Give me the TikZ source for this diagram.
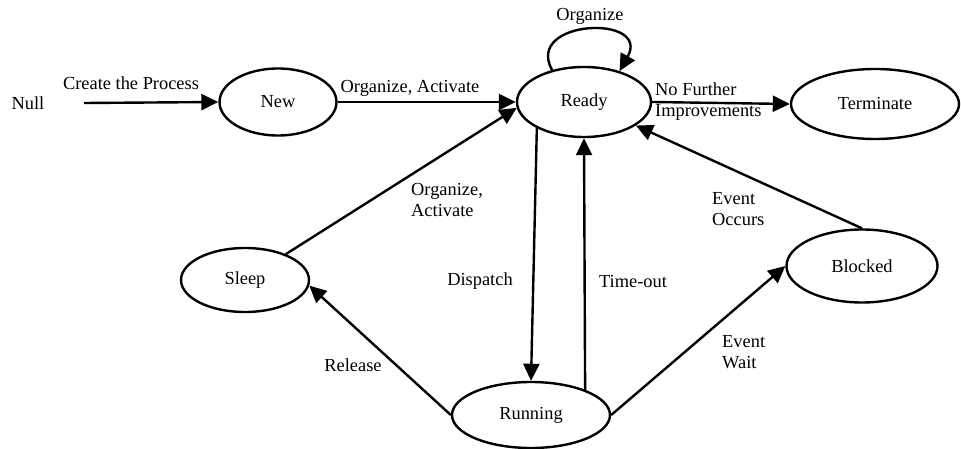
\documentclass[tikz,border=0pt]{standalone}
\usepackage{fontspec}
\setmainfont{Liberation Serif}
\usetikzlibrary{shapes.geometric, arrows.meta}
\begin{document}
\begin{tikzpicture}[x=1pt, y=-1pt,
  every node/.style={font=\fontsize{18.4}{21}\selectfont},
  state/.style={draw, ellipse, line width=2.4pt, inner sep=0pt},
  flow/.style={line width=2.4pt, -{Triangle[length=17pt, width=16pt]}},
  lbl/.style={inner sep=0pt, align=left}
]
\useasboundingbox (0,0) rectangle (961,449);

% states
\node (null) at (28,103) {Null};
\node[state, minimum width=117pt, minimum height=67pt] (new)     at (278,102) {New};
\node[state, minimum width=134pt, minimum height=70pt] (ready)   at (584,102) {Ready};
\node[state, minimum width=168pt, minimum height=70pt] (term)    at (875,104) {Terminate};
\node[state, minimum width=128pt, minimum height=64pt] (sleep)   at (245,280) {Sleep};
\node[state, minimum width=151pt, minimum height=73pt] (blocked) at (862,266) {Blocked};
\node[state, minimum width=158pt, minimum height=66pt] (running) at (531,415) {Running};

% transitions
\coordinate (nullout) at (84,103);
\draw[flow] (nullout) -- (new.west);
\draw[flow] (new.east) -- (ready.west);
\draw[flow] (ready.east) -- (term.west);
\draw[flow] (ready.135) .. controls +(-28,-51) and +(32,-57) .. (ready.41);
\draw[flow] (sleep) -- (ready.185);
\draw[flow] (ready.209) -- (running.north);
\draw[flow] (running.25) -- (ready.south);
\draw[flow] (running.west) -- (sleep.355);
\draw[flow] (running.east) -- (blocked.west);
\draw[flow] (blocked.north) -- (ready);

% labels
\node[lbl] (lcreate) at (131,83) {Create the Process};
\node[lbl] (lorgact) at (410,88) {Organize, Activate};
\node[lbl] (lloop) at (590,16) {Organize};
\node[lbl, anchor=west] (lnofurther) at (655,102) {No Further\\Improvements};
\node[lbl, anchor=west] (lorgact2) at (411,200) {Organize,\\Activate};
\node[lbl] (ldispatch) at (480,281) {Dispatch};
\node[lbl] (ltimeout) at (633,281) {Time-out};
\node[lbl, anchor=west] (loccurs) at (712,209.5) {Event\\Occurs};
\node[lbl, anchor=west] (lwait) at (722,352) {Event\\Wait};
\node[lbl] (lrelease) at (353,365) {Release};
\end{tikzpicture}
\end{document}
